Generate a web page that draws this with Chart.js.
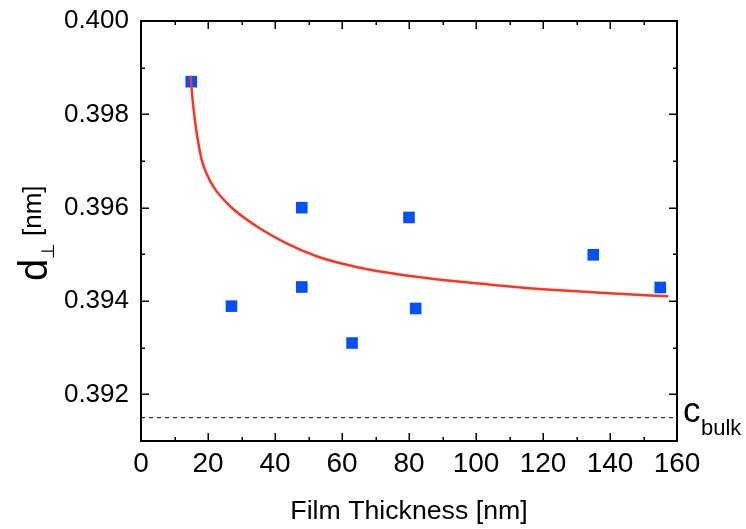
<!DOCTYPE html>
<html><head><meta charset="utf-8">
<script src="https://cdn.jsdelivr.net/npm/chart.js@4/dist/chart.umd.min.js"></script>
<style>html,body{margin:0;padding:0;background:#fff}canvas{display:block}</style>
</head><body>
<div style="width:746px;height:529px"><canvas id="c" width="746" height="529"></canvas></div>
<script>
// ---- data ----
const thickness = [15, 27, 48, 48, 63, 80, 82, 135, 155];
const dPerp = [0.3987, 0.39389, 0.3960, 0.3943, 0.3931, 0.39579, 0.39384, 0.39499, 0.39429];
const fitX = [14.78, 15.52, 16.6, 18.1, 19.7, 21.6, 26.6, 34.5, 43.3, 52.4, 62.4, 72.3, 86.3, 105.7, 125.1, 141.2, 157.4];
const fitY = [0.39883, 0.39823, 0.39761, 0.39703, 0.39671, 0.39645, 0.39603, 0.39560, 0.39524, 0.39496, 0.39476, 0.39462, 0.39448, 0.39434, 0.39423, 0.39416, 0.39410];
const cBulk = 0.3915;
const bulkX = [0, 160];
const xTicks = [0, 20, 40, 60, 80, 100, 120, 140, 160];
const xMinor = [10, 30, 50, 70, 90, 110, 130, 150];
const yTicks = [0.392, 0.394, 0.396, 0.398, 0.400];
const yMinor = [0.393, 0.395, 0.397, 0.399];

const FONT = '"Liberation Sans", Arial, Helvetica, sans-serif';
Chart.defaults.font.family = FONT;
Chart.defaults.color = '#000';

const framePlugin = {
  id: 'frame',
  afterDatasetsDraw(chart) {
    const {ctx, chartArea: a, scales: {x, y}} = chart;
    ctx.save();
    ctx.strokeStyle = '#000';
    ctx.lineWidth = 2;
    ctx.strokeRect(a.left, a.top, a.right - a.left, a.bottom - a.top);
    ctx.lineWidth = 1.5;
    ctx.beginPath();
    const vt = (v, len) => {
      const px = Math.round(x.getPixelForValue(v)) + 0.25;
      ctx.moveTo(px, a.bottom); ctx.lineTo(px, a.bottom - len);
      ctx.moveTo(px, a.top); ctx.lineTo(px, a.top + len);
    };
    const ht = (v, len) => {
      const py = Math.round(y.getPixelForValue(v)) + 0.25;
      ctx.moveTo(a.left, py); ctx.lineTo(a.left + len, py);
      ctx.moveTo(a.right, py); ctx.lineTo(a.right - len, py);
    };
    xTicks.forEach(v => vt(v, 8));
    xMinor.forEach(v => vt(v, 4));
    yTicks.forEach(v => ht(v, 8));
    yMinor.forEach(v => ht(v, 4));
    ctx.stroke();
    ctx.restore();
  },
  afterDraw(chart) {
    const {ctx, chartArea: a, scales: {y}} = chart;
    // y axis title: d⊥ [nm], rotated, reading bottom to top
    ctx.save();
    ctx.fillStyle = '#000';
    ctx.textBaseline = 'alphabetic';
    const cy = (a.top + a.bottom) / 2;
    ctx.translate(47, cy);
    ctx.rotate(-Math.PI / 2);
    ctx.font = '40px ' + FONT;
    const dW = ctx.measureText('d').width;
    let u = -50;
    ctx.fillText('d', u, 0);
    ctx.font = '18px ' + FONT;
    ctx.fillText('\u22A5', u + dW, 7);
    ctx.font = '26px ' + FONT;
    ctx.fillText('[nm]', -5, -6);
    ctx.restore();
    // c_bulk label
    ctx.save();
    ctx.fillStyle = '#000';
    ctx.textBaseline = 'alphabetic';
    const by = y.getPixelForValue(cBulk);
    ctx.font = '35px ' + FONT;
    ctx.fillText('c', a.right + 6, by + 4);
    const cw = ctx.measureText('c').width;
    ctx.font = '22px ' + FONT;
    ctx.fillText('bulk', a.right + 6 + cw + 0.5, by + 17);
    ctx.restore();
  }
};

new Chart(document.getElementById('c'), {
  type: 'scatter',
  data: {
    datasets: [
      {
        label: 'fit',
        data: fitX.map((v, i) => ({x: v, y: fitY[i]})),
        showLine: true,
        borderColor: '#FF3322',
        borderWidth: 2.5,
        pointRadius: 0,
        cubicInterpolationMode: 'monotone',
        order: 0
      },
      {
        label: 'd',
        data: thickness.map((v, i) => ({x: v, y: dPerp[i]})),
        pointStyle: 'rect',
        pointRadius: 8.2,
        pointBackgroundColor: '#0050FF',
        pointBorderWidth: 0,
        borderColor: '#0050FF',
        order: 1
      },
      {
        label: 'c_bulk',
        data: bulkX.map(v => ({x: v, y: cBulk})),
        showLine: true,
        borderColor: '#000',
        borderWidth: 1,
        borderDash: [4, 4],
        pointRadius: 0,
        order: 2
      }
    ]
  },
  options: {
    responsive: false,
    animation: false,
    devicePixelRatio: 1,
    layout: {padding: {left: 0, right: 69, top: 21, bottom: 0}},
    plugins: {legend: {display: false}, tooltip: {enabled: false}},
    scales: {
      x: {
        type: 'linear', min: 0, max: 160,
        afterBuildTicks: s => { s.ticks = xTicks.map(v => ({value: v})); },
        afterFit: s => { s.height = 88; s.paddingLeft = 0; s.paddingRight = 0; },
        grid: {display: false, drawTicks: false, tickLength: 0},
        border: {display: false},
        ticks: {font: {size: 28}, color: '#000', padding: 6, maxRotation: 0, autoSkip: false},
        title: {display: true, text: 'Film Thickness [nm]', font: {size: 26.7}, color: '#000', padding: {top: 0, bottom: 1}}
      },
      y: {
        type: 'linear', min: 0.391, max: 0.400,
        afterBuildTicks: s => { s.ticks = yTicks.map(v => ({value: v})); },
        afterFit: s => { s.width = 141; s.paddingTop = 0; s.paddingBottom = 0; },
        grid: {display: false, drawTicks: false, tickLength: 0},
        border: {display: false},
        ticks: {font: {size: 26}, color: '#000', padding: 12, callback: v => Number(v).toFixed(3)}
      }
    }
  },
  plugins: [framePlugin]
});
</script>
</body></html>
